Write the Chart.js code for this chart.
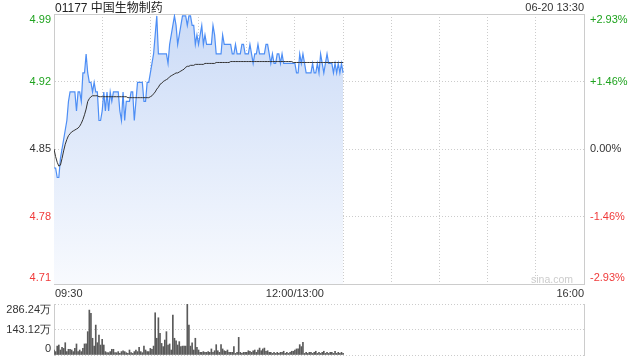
<!DOCTYPE html>
<html lang="zh">
<head>
  <meta charset="UTF-8">
  <title>01177 中国生物制药</title>
  <script src="https://cdn.jsdelivr.net/npm/chart.js"></script>
  <style>
    body { margin: 0; background: #fff; }
    #wrap { position: relative; width: 640px; height: 360px; font-family: "Liberation Sans", "Noto Sans CJK SC", sans-serif; }
    canvas { position: absolute; left: 0; }
    #priceChart { top: 0; }
    #volChart { top: 294px; }
    .txt { position: absolute; white-space: nowrap; }
    #title { left: 55px; top: 1px; font-size: 12px; line-height: 14px; color: #222; }
    #stamp { right: 56px; top: 1px; font-size: 11px; line-height: 12px; color: #333; }
    #mark { right: 67px; top: 273px; font-size: 10.5px; line-height: 12px; color: #ccc; }
  </style>
</head>
<body>

<div id="wrap">
  <canvas id="priceChart" width="640" height="300"></canvas>
  <canvas id="volChart" width="640" height="66"></canvas>
  <div class="txt" id="title">01177 中国生物制药</div>
  <div class="txt" id="stamp">06-20 13:30</div>
  <div class="txt" id="mark">sina.com</div>
</div>

<script>
// minute index: 0 = 09:30, 150 = 12:00/13:00, 330 = 16:00
const prevClose = 4.85;
const priceTicks = [4.708, 4.779, 4.85, 4.921, 4.992];
const volTicks = [0, 143.12, 286.24];
const timeTicks = [0, 150, 330];
const timeLabels = ['09:30', '12:00/13:00', '16:00'];

const prices = [
  4.83,4.83,4.82,4.82,4.84,4.85,4.86,4.87,4.88,4.90,
  4.91,4.91,4.91,4.91,4.89,4.91,4.91,4.90,4.93,4.93,
  4.95,4.93,4.92,4.92,4.91,4.92,4.91,4.91,4.88,4.88,
  4.89,4.91,4.89,4.91,4.89,4.91,4.90,4.91,4.91,4.91,
  4.91,4.89,4.88,4.91,4.88,4.90,4.90,4.90,4.91,4.91,
  4.88,4.90,4.92,4.92,4.92,4.92,4.90,4.90,4.92,4.92,
  4.93,4.94,4.95,4.97,4.99,4.95,4.95,4.95,4.95,4.95,
  4.95,4.94,4.96,4.97,4.98,4.99,4.98,4.96,4.97,4.98,
  4.99,4.99,4.99,4.98,4.99,4.99,4.98,4.98,4.96,4.97,
  4.96,4.97,4.98,4.96,4.97,4.96,4.96,4.96,4.96,4.98,
  4.97,4.95,4.95,4.95,4.95,4.97,4.96,4.96,4.96,4.96,
  4.96,4.95,4.95,4.96,4.95,4.95,4.95,4.96,4.96,4.95,
  4.95,4.95,4.96,4.95,4.94,4.95,4.95,4.96,4.95,4.95,
  4.95,4.95,4.96,4.96,4.95,4.94,4.95,4.94,4.94,4.95,
  4.95,4.94,4.95,4.94,4.94,4.94,4.94,4.94,4.94,4.94,
  4.94,4.93,4.93,4.95,4.94,4.95,4.94,4.93,4.93,4.93,
  4.93,4.94,4.93,4.93,4.94,4.93,4.95,4.94,4.93,4.94,
  4.95,4.94,4.94,4.94,4.93,4.94,4.93,4.94,4.93,4.94,
  4.93
];

const avgPrices = [
  4.850,4.842,4.836,4.832,4.833,4.840,4.848,4.855,4.860,4.864,
  4.866,4.868,4.869,4.870,4.871,4.872,4.874,4.877,4.881,4.886,
  4.892,4.900,4.903,4.905,4.906,4.906,4.906,4.906,4.905,4.905,
  4.905,4.905,4.905,4.905,4.905,4.905,4.905,4.905,4.905,4.905,
  4.905,4.905,4.905,4.905,4.905,4.905,4.904,4.904,4.904,4.904,
  4.904,4.904,4.904,4.904,4.904,4.904,4.904,4.904,4.904,4.904,
  4.905,4.906,4.908,4.910,4.913,4.915,4.918,4.919,4.921,4.922,
  4.923,4.924,4.926,4.927,4.928,4.929,4.930,4.930,4.931,4.932,
  4.933,4.934,4.936,4.937,4.937,4.938,4.938,4.938,4.939,4.939,
  4.939,4.939,4.939,4.939,4.940,4.940,4.940,4.940,4.940,4.940,
  4.940,4.941,4.941,4.941,4.941,4.941,4.941,4.941,4.941,4.941,
  4.942,4.942,4.942,4.942,4.942,4.942,4.942,4.942,4.942,4.942,
  4.942,4.942,4.942,4.942,4.942,4.942,4.942,4.942,4.942,4.942,
  4.942,4.942,4.942,4.942,4.942,4.942,4.942,4.942,4.942,4.942,
  4.942,4.942,4.942,4.942,4.942,4.942,4.942,4.942,4.942,4.941,
  4.941,4.941,4.941,4.941,4.941,4.941,4.941,4.941,4.941,4.941,
  4.941,4.941,4.941,4.941,4.941,4.941,4.941,4.941,4.941,4.941,
  4.941,4.941,4.941,4.941,4.941,4.941,4.941,4.941,4.941,4.941,
  4.941
];

// 成交量 (万股)
const volumes = [
  28,19,50,56,28,43,37,69,19,32,
  32,28,19,37,62,19,28,19,37,62,
  62,131,252,234,94,50,168,69,112,56,
  88,56,19,13,13,19,32,32,13,13,
  19,9,19,24,19,13,9,28,13,9,
  19,28,19,43,19,13,50,28,19,19,
  37,32,50,237,94,209,122,65,47,84,
  131,56,62,28,224,94,80,56,75,47,
  50,50,50,286.24,168,50,69,28,94,43,
  28,15,15,19,15,15,19,15,34,15,
  24,58,24,15,58,34,24,21,28,15,
  15,15,47,9,15,99,15,9,15,15,
  15,24,21,15,24,28,15,28,39,24,
  34,39,21,24,15,15,9,15,9,15,
  9,15,15,21,9,15,9,15,21,21,
  28,34,34,58,47,71,9,15,9,15,
  15,9,15,21,9,15,9,15,21,9,
  15,9,15,15,9,21,9,15,9,15,
  9
];

const GREEN = '#1fa31f';
const RED = '#f03a3a';
const GRID = '#cccccc';
const FONT = { family: '"Liberation Sans", Arial, sans-serif', size: 11 };

Chart.defaults.font.family = FONT.family;
Chart.defaults.font.size = FONT.size;

function tickColor(c) {
  const v = c.tick.value;
  if (v > prevClose + 1e-6) return GREEN;
  if (v < prevClose - 1e-6) return RED;
  return '#333';
}

// top label sits just under the top edge, bottom label just above the bottom edge
const edgeLabels = {
  id: 'edgeLabels',
  beforeDraw(chart) {
    for (const s of Object.values(chart.scales)) {
      if (s.axis !== 'y' || !s.options.ticks.display) continue;
      const items = s.getLabelItems(chart.chartArea);
      items.forEach((it, k) => {
        if (it._moved) return;
        if (k === 0) it.options.translation[1] -= 6;
        if (k === items.length - 1) it.options.translation[1] += 6;
        it._moved = true;
      });
    }
  }
};

const timeAxisLabels = {
  id: 'timeAxisLabels',
  afterDraw(chart) {
    const { ctx, chartArea, scales: { x } } = chart;
    ctx.save();
    ctx.font = '11px "Liberation Sans", Arial, sans-serif';
    ctx.fillStyle = '#333';
    ctx.textBaseline = 'middle';
    timeTicks.forEach((t, k) => {
      ctx.textAlign = k === 0 ? 'left' : (k === timeTicks.length - 1 ? 'right' : 'center');
      ctx.fillText(timeLabels[k], x.getPixelForValue(t) + (k === 0 ? 1 : 0), chartArea.bottom + 10);
    });
    ctx.restore();
  }
};

function fillGradient(c) {
  const { ctx, chartArea } = c.chart;
  if (!chartArea) return 'rgba(205,220,247,0.6)';
  const g = ctx.createLinearGradient(0, chartArea.top, 0, chartArea.bottom);
  g.addColorStop(0, '#cbdbf7');
  g.addColorStop(1, '#f8fafe');
  return g;
}

const priceMin = priceTicks[0];
const priceMax = priceTicks[priceTicks.length - 1];

new Chart(document.getElementById('priceChart'), {
  type: 'line',
  data: {
    datasets: [
      {
        data: avgPrices.map((p, i) => ({ x: i, y: p })),
        borderColor: '#333',
        borderWidth: 1,
        pointRadius: 0,
        fill: false,
        order: 0
      },
      {
        data: prices.map((p, i) => ({ x: i, y: p })),
        borderColor: '#4d8ef5',
        borderWidth: 1.2,
        pointRadius: 0,
        fill: 'start',
        backgroundColor: fillGradient,
        order: 1
      }
    ]
  },
  options: {
    responsive: false,
    animation: false,
    events: [],
    layout: { padding: { top: 14, bottom: 16, left: 0, right: 0 } },
    plugins: { legend: { display: false }, tooltip: { enabled: false } },
    scales: {
      x: {
        type: 'linear', min: 0, max: 330,
        ticks: { display: false, stepSize: 30 },
        grid: { color: GRID, drawTicks: false },
        border: { color: GRID, dash: [1, 2] },
        afterFit: s => { s.height = 0; }
      },
      xt: {
        type: 'linear', position: 'top', min: 0, max: 330,
        ticks: { display: false },
        grid: { display: false, drawTicks: false },
        border: { color: GRID },
        afterFit: s => { s.height = 0; }
      },
      y: {
        min: priceMin, max: priceMax,
        afterBuildTicks: s => { s.ticks = priceTicks.map(v => ({ value: v })); },
        ticks: { callback: v => v.toFixed(2), color: tickColor, padding: 3 },
        grid: { color: GRID, drawTicks: false },
        border: { color: GRID, dash: [1, 2] },
        afterFit: s => { s.width = 54; s.paddingTop = 0; s.paddingBottom = 0; }
      },
      yr: {
        position: 'right', min: priceMin, max: priceMax,
        afterBuildTicks: s => { s.ticks = priceTicks.map(v => ({ value: v })); },
        ticks: {
          callback: v => {
            const pct = (v - prevClose) / prevClose * 100;
            return (pct > 0.001 ? '+' : '') + pct.toFixed(2) + '%';
          },
          color: tickColor, padding: 6
        },
        grid: { display: false, drawTicks: false },
        border: { color: GRID },
        afterFit: s => { s.width = 56; s.paddingTop = 0; s.paddingBottom = 0; }
      }
    }
  },
  plugins: [edgeLabels, timeAxisLabels]
});

new Chart(document.getElementById('volChart'), {
  type: 'bar',
  data: {
    datasets: [{
      data: volumes.map((v, i) => ({ x: i, y: v })),
      backgroundColor: '#5a5a5a',
      barThickness: 1
    }]
  },
  options: {
    responsive: false,
    animation: false,
    events: [],
    layout: { padding: { top: 10, bottom: 5, left: 0, right: 0 } },
    plugins: { legend: { display: false }, tooltip: { enabled: false } },
    scales: {
      x: { type: 'linear', min: 0, max: 330, offset: false, display: false },
      y: {
        min: volTicks[0], max: volTicks[volTicks.length - 1],
        afterBuildTicks: s => { s.ticks = volTicks.map(v => ({ value: v })); },
        ticks: { callback: v => v === 0 ? '0' : v.toFixed(2) + '万', color: '#333', padding: 3 },
        grid: { color: GRID, drawTicks: false },
        border: { color: GRID, dash: [1, 2] },
        afterFit: s => { s.width = 54; s.paddingTop = 0; s.paddingBottom = 0; }
      },
      yr: {
        position: 'right', min: 0, max: 1,
        ticks: { display: false },
        grid: { display: false, drawTicks: false },
        border: { color: GRID },
        afterFit: s => { s.width = 56; }
      }
    }
  },
  plugins: [edgeLabels]
});
</script>

</body>
</html>
